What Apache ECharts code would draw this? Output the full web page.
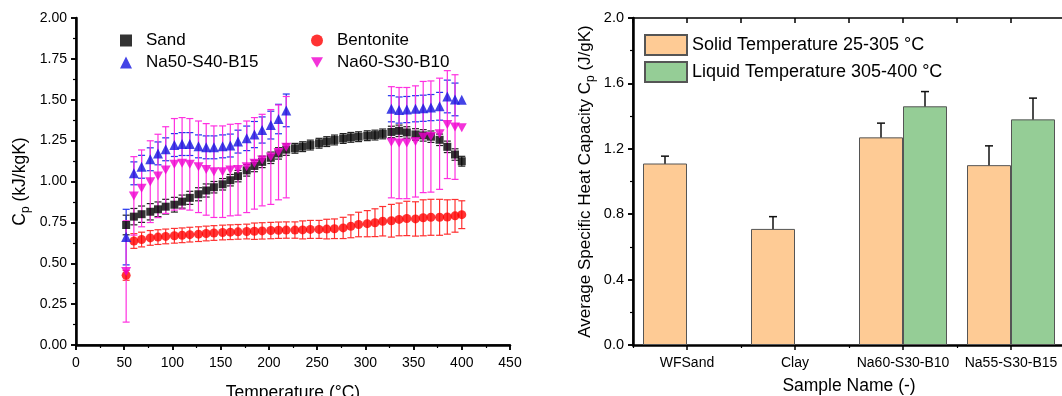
<!DOCTYPE html>
<html><head><meta charset="utf-8">
<script src="https://cdn.jsdelivr.net/npm/echarts@6/dist/echarts.min.js"></script>
<style>html,body{margin:0;padding:0;background:#fff}#c{width:1062px;height:396px}</style>
</head><body><div id="c"></div>
<script>
// ---------- Left panel data ----------
const temps = [52, 60, 68, 77, 85, 93, 102, 110, 118, 127, 135, 143, 152, 160, 168, 177, 185, 193, 202, 210, 218,
  227, 235, 243, 252, 260, 268, 277, 285, 293, 302, 310, 318,
  327, 335, 343, 352, 360, 368, 377, 385, 393, 400];
const sand = [0.734, 0.785, 0.800, 0.815, 0.830, 0.846, 0.858, 0.877, 0.900, 0.922, 0.945, 0.965, 0.983, 1.008, 1.033, 1.068, 1.095, 1.120, 1.145, 1.172, 1.195,
  1.203, 1.213, 1.223, 1.234, 1.244, 1.254, 1.263, 1.270, 1.274, 1.280, 1.284, 1.291,
  1.303, 1.310, 1.300, 1.288, 1.282, 1.274, 1.255, 1.212, 1.165, 1.124];
const sandErr = [0.06, 0.05, 0.05, 0.05, 0.045, 0.045, 0.045, 0.04, 0.04, 0.04, 0.04, 0.035, 0.035, 0.035, 0.035, 0.035, 0.035, 0.035, 0.035, 0.035, 0.035,
  0.03, 0.03, 0.03, 0.03, 0.03, 0.03, 0.03, 0.03, 0.03, 0.03, 0.03, 0.03,
  0.035, 0.035, 0.035, 0.035, 0.035, 0.035, 0.035, 0.035, 0.035, 0.03];
const bentonite = [0.426, 0.636, 0.645, 0.655, 0.660, 0.664, 0.668, 0.671, 0.675, 0.678, 0.682, 0.685, 0.688, 0.690, 0.692, 0.694, 0.696, 0.698, 0.700, 0.702, 0.703,
  0.703, 0.704, 0.707, 0.707, 0.709, 0.711, 0.716, 0.726, 0.737, 0.742, 0.748, 0.757,
  0.760, 0.768, 0.774, 0.771, 0.778, 0.781, 0.781, 0.783, 0.790, 0.797];
const bentoniteErr = [0.03, 0.045, 0.045, 0.045, 0.045, 0.045, 0.045, 0.045, 0.045, 0.045, 0.045, 0.045, 0.045, 0.045, 0.045, 0.045, 0.05, 0.05, 0.05, 0.05, 0.05,
  0.05, 0.055, 0.055, 0.055, 0.06, 0.06, 0.065, 0.07, 0.075, 0.08, 0.085, 0.09,
  0.1, 0.1, 0.105, 0.105, 0.11, 0.11, 0.11, 0.105, 0.1, 0.085];
const na50 = [0.66, 1.05, 1.09, 1.136, 1.172, 1.197, 1.223, 1.229, 1.229, 1.215, 1.209, 1.209, 1.215, 1.220, 1.244, 1.264, 1.287, 1.315, 1.345, 1.382, 1.435,
  null, null, null, null, null, null, null, null, null, null, null, null,
  1.445, 1.437, 1.440, 1.445, 1.448, 1.452, 1.460, 1.520, 1.502, 1.500];
const na50Err = [0.17, 0.07, 0.07, 0.07, 0.07, 0.07, 0.07, 0.07, 0.07, 0.07, 0.07, 0.07, 0.07, 0.07, 0.07, 0.075, 0.08, 0.08, 0.085, 0.09, 0.1,
  null, null, null, null, null, null, null, null, null, null, null, null,
  0.08, 0.08, 0.08, 0.08, 0.08, 0.08, 0.085, 0.1, 0.1, 0.0];
const na60 = [0.45, 0.912, 0.958, 0.999, 1.034, 1.070, 1.105, 1.111, 1.105, 1.090, 1.074, 1.060, 1.060, 1.070, 1.074, 1.090, 1.111, 1.131, 1.150, 1.178, 1.210,
  null, null, null, null, null, null, null, null, null, null, null, null,
  1.240, 1.235, 1.235, 1.245, 1.272, 1.275, 1.292, 1.348, 1.333, 1.328];
const na60Err = [0.31, 0.24, 0.235, 0.25, 0.255, 0.265, 0.28, 0.28, 0.28, 0.28, 0.28, 0.28, 0.28, 0.28, 0.28, 0.28, 0.28, 0.28, 0.29, 0.29, 0.31,
  null, null, null, null, null, null, null, null, null, null, null, null,
  0.34, 0.34, 0.34, 0.34, 0.34, 0.34, 0.34, 0.33, 0.32, 0.0];
const leftXTicks = [0, 450, 50];
const leftYTicks = [0, 2, 0.25];

// ---------- Right panel data ----------
const samples = ['WFSand', 'Clay', 'Na60-S30-B10', 'Na55-S30-B15'];
const solid = [1.11, 0.71, 1.27, 1.10];
const solidErr = [0.045, 0.075, 0.087, 0.118];
const liquid = [null, null, 1.46, 1.38];
const liquidErr = [null, null, 0.09, 0.13];
const rightYTicks = [0, 2, 0.4];

const FONT = 'Liberation Sans';
const BAR_W = 44;

function pts(vals) {
  const out = [];
  vals.forEach((v, i) => { if (v != null) out.push([temps[i], v]); });
  return out;
}
function errs(vals, e) {
  const out = [];
  vals.forEach((v, i) => { if (v != null && e[i]) out.push([temps[i], v - e[i], v + e[i]]); });
  return out;
}
function errRender(color, cap, lw, dx) {
  return function (params, api) {
    const x = api.value(0), lo = api.value(1), hi = api.value(2);
    const p1 = api.coord([x, lo]), p2 = api.coord([x, hi]);
    const off = dx || 0;
    const h = cap / 2;
    const st = { stroke: color, lineWidth: lw };
    const cx = p1[0] + off;
    return { type: 'group', children: [
      { type: 'line', shape: { x1: cx, y1: p1[1], x2: cx, y2: p2[1] }, style: st },
      { type: 'line', shape: { x1: cx - h, y1: p1[1], x2: cx + h, y2: p1[1] }, style: st },
      { type: 'line', shape: { x1: cx - h, y1: p2[1], x2: cx + h, y2: p2[1] }, style: st }
    ] };
  };
}
function errSeries(name, data, color, cap, lw, xi, yi, dx) {
  return { type: 'custom', name: name, xAxisIndex: xi, yAxisIndex: yi, data: data,
    renderItem: errRender(color, cap, lw, dx), encode: { x: 0, y: [1, 2] }, silent: true, z: 2 };
}
function barErr(vals, e) {
  const out = [];
  vals.forEach((v, i) => { if (v != null) out.push([i, v - e[i], v + e[i]]); });
  return out;
}

const black = '#000';
const axisLbl = { color: '#000', fontFamily: FONT };

const chart = echarts.init(document.getElementById('c'), null, { renderer: 'canvas' });
chart.setOption({
  animation: false,
  backgroundColor: '#fff',
  grid: [
    { left: 76, top: 18, width: 434, height: 327, outerBoundsMode: 'none', containLabel: false },
    { left: 633, top: 18, width: 432, height: 327, outerBoundsMode: 'none', containLabel: false }
  ],
  legend: [
    { data: ['Sand', 'Na50-S40-B15'], left: 115, top: 27, orient: 'vertical', itemGap: 5,
      itemWidth: 12, itemHeight: 12, textStyle: { fontSize: 17, fontFamily: FONT, color: '#000', padding: [0, 0, 0, 9] } },
    { data: ['Bentonite', 'Na60-S30-B10'], left: 306, top: 27, orient: 'vertical', itemGap: 5,
      itemWidth: 12, itemHeight: 12, textStyle: { fontSize: 17, fontFamily: FONT, color: '#000', padding: [0, 0, 0, 9] } },
    { data: ['Solid Temperature 25-305 °C', 'Liquid Temperature 305-400 °C'], left: 639, top: 29, orient: 'vertical',
      icon: 'rect', itemGap: 5, itemWidth: 42, itemHeight: 20,
      textStyle: { fontSize: 18, fontFamily: FONT, color: '#000' } }
  ],
  xAxis: [
    { gridIndex: 0, type: 'value', position: 'bottom', min: leftXTicks[0], max: leftXTicks[1], interval: leftXTicks[2],
      axisLine: { lineStyle: { color: black, width: 2.5 } },
      axisTick: { show: true, length: 5, lineStyle: { color: black, width: 1.5 } },
      minorTick: { show: true, splitNumber: 2, length: 3, lineStyle: { color: black, width: 1.2 } },
      splitLine: { show: false },
      axisLabel: Object.assign({ fontSize: 14, margin: 11 }, axisLbl),
      name: 'Temperature (°C)', nameLocation: 'middle', nameGap: 39,
      nameTextStyle: { fontSize: 17.5, fontFamily: FONT, color: '#000' } },
    { gridIndex: 0, type: 'value', position: 'top', min: leftXTicks[0], max: leftXTicks[1], interval: leftXTicks[2],
      axisLine: { lineStyle: { color: black, width: 1.5 } },
      axisTick: { show: true, inside: true, length: 5, lineStyle: { color: black, width: 1.5 } },
      minorTick: { show: true, splitNumber: 2, length: 3, lineStyle: { color: black } },
      splitLine: { show: false }, axisLabel: { show: false } },
    { gridIndex: 1, type: 'category', position: 'bottom', data: samples,
      axisLine: { lineStyle: { color: black, width: 2.5 } },
      axisTick: { show: true, alignWithLabel: true, length: 5, lineStyle: { color: black, width: 1.5 } },
      axisLabel: Object.assign({ fontSize: 14, margin: 11, interval: 0 }, axisLbl),
      name: 'Sample Name (-)', nameLocation: 'middle', nameGap: 32,
      nameTextStyle: { fontSize: 17.5, fontFamily: FONT, color: '#000' } },
    { gridIndex: 1, type: 'value', position: 'bottom', min: 0, max: 4, interval: 1,
      axisLine: { show: false }, axisTick: { show: true, length: 3, lineStyle: { color: black, width: 1.2 } },
      splitLine: { show: false }, axisLabel: { show: false } },
    { gridIndex: 1, type: 'value', position: 'top', min: 0, max: 4, interval: 0.5,
      axisLine: { lineStyle: { color: black, width: 1.5 } },
      axisTick: { show: true, inside: true, length: 5, lineStyle: { color: black, width: 1.5 } },
      splitLine: { show: false }, axisLabel: { show: false } }
  ],
  yAxis: [
    { gridIndex: 0, type: 'value', position: 'left', min: leftYTicks[0], max: leftYTicks[1], interval: leftYTicks[2],
      axisLine: { show: true, lineStyle: { color: black, width: 2.5 } },
      axisTick: { show: true, length: 5, lineStyle: { color: black, width: 1.5 } },
      minorTick: { show: true, splitNumber: 2, length: 3, lineStyle: { color: black, width: 1.2 } },
      splitLine: { show: false },
      axisLabel: Object.assign({ fontSize: 14, margin: 9, formatter: v => v.toFixed(2) }, axisLbl),
      name: 'C{s|p} (kJ/kgK)', nameLocation: 'middle', nameGap: 44,
      nameTextStyle: { fontSize: 17.5, fontFamily: FONT, color: '#000',
        rich: { s: { fontSize: 12, fontFamily: FONT, color: '#000', verticalAlign: 'bottom', padding: [12, 0, 0, 0] } } } },
    { gridIndex: 0, type: 'value', position: 'right', min: leftYTicks[0], max: leftYTicks[1], interval: leftYTicks[2],
      axisLine: { show: true, lineStyle: { color: black, width: 1.5 } },
      axisTick: { show: true, inside: true, length: 5, lineStyle: { color: black, width: 1.5 } },
      minorTick: { show: true, splitNumber: 2, length: 3, lineStyle: { color: black } },
      splitLine: { show: false }, axisLabel: { show: false } },
    { gridIndex: 1, type: 'value', position: 'left', min: rightYTicks[0], max: rightYTicks[1], interval: rightYTicks[2],
      axisLine: { show: true, lineStyle: { color: black, width: 2.5 } },
      axisTick: { show: true, length: 5, lineStyle: { color: black, width: 1.5 } },
      minorTick: { show: true, splitNumber: 2, length: 3, lineStyle: { color: black, width: 1.2 } },
      splitLine: { show: false },
      axisLabel: Object.assign({ fontSize: 14.5, margin: 9, formatter: v => v.toFixed(1) }, axisLbl),
      name: 'Average Specific Heat Capacity C{s|p} (J/gK)', nameLocation: 'middle', nameGap: 36,
      nameTextStyle: { fontSize: 17, fontFamily: FONT, color: '#000',
        rich: { s: { fontSize: 12, fontFamily: FONT, color: '#000', verticalAlign: 'bottom', padding: [12, 0, 0, 0] } } } },
    { gridIndex: 1, type: 'value', position: 'right', min: rightYTicks[0], max: rightYTicks[1], interval: rightYTicks[2],
      axisLine: { show: true, lineStyle: { color: black, width: 1.5 } },
      axisTick: { show: true, inside: true, length: 5, lineStyle: { color: black, width: 1.5 } },
      splitLine: { show: false }, axisLabel: { show: false } }
  ],
  series: [
    errSeries('sandErr', errs(sand, sandErr), '#222', 7, 1.2, 0, 0),
    { type: 'scatter', name: 'Sand', xAxisIndex: 0, yAxisIndex: 0, data: pts(sand), symbol: 'rect', symbolSize: 8,
      itemStyle: { color: '#000' }, z: 3 },
    errSeries('bentErr', errs(bentonite, bentoniteErr), '#ff3030', 7, 1.2, 0, 0),
    { type: 'scatter', name: 'Bentonite', xAxisIndex: 0, yAxisIndex: 0, data: pts(bentonite), symbol: 'circle', symbolSize: 9,
      itemStyle: { color: '#ff0000' }, z: 3 },
    errSeries('na50Err', errs(na50, na50Err), '#2233ee', 7, 1.2, 0, 0),
    { type: 'scatter', name: 'Na50-S40-B15', xAxisIndex: 0, yAxisIndex: 0, data: pts(na50), symbol: 'triangle', symbolSize: 10,
      itemStyle: { color: '#1414e0' }, z: 3 },
    errSeries('na60Err', errs(na60, na60Err), '#ff30e0', 7, 1.2, 0, 0),
    { type: 'scatter', name: 'Na60-S30-B10', xAxisIndex: 0, yAxisIndex: 0, data: pts(na60), symbol: 'path://M0,0L10,0L5,8.66Z', symbolSize: [10, 9],
      itemStyle: { color: '#f000d0' }, z: 3 },
    { type: 'bar', name: 'Solid Temperature 25-305 °C', xAxisIndex: 2, yAxisIndex: 2, data: solid, barWidth: BAR_W, barGap: '0%',
      itemStyle: { color: '#fecb95', borderColor: '#555', borderWidth: 1 } },
    { type: 'bar', name: 'Liquid Temperature 305-400 °C', xAxisIndex: 2, yAxisIndex: 2, data: liquid, barWidth: BAR_W, barGap: '0%',
      itemStyle: { color: '#95cd96', borderColor: '#555', borderWidth: 1 } },
    errSeries('solidErr', barErr(solid, solidErr), '#111', 8, 1.5, 2, 2, -BAR_W / 2),
    errSeries('liquidErr', barErr(liquid, liquidErr), '#111', 8, 1.5, 2, 2, BAR_W / 2)
  ]
});
</script></body></html>
